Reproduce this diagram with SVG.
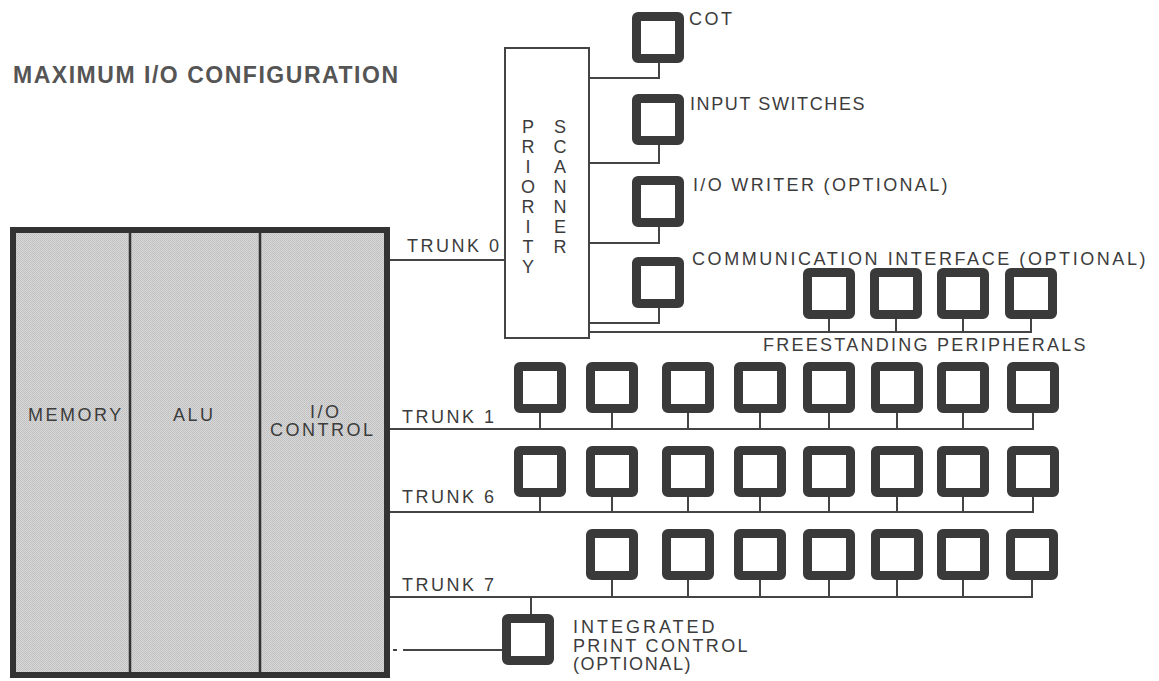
<svg xmlns="http://www.w3.org/2000/svg" xmlns:xlink="http://www.w3.org/1999/xlink" width="1159" height="681" viewBox="0 0 1159 681">
<style>
  text { font-family: "Liberation Sans", Arial, sans-serif; fill: #3c3c3c; }
  .lbl { font-size: 18px; letter-spacing: 2.5px; }
  .ltr { font-size: 18px; text-anchor: middle; }
  .title { font-size: 23px; font-weight: bold; fill: #555; }
  .ln { stroke: #444; stroke-width: 2; fill: none; }
  .pb { fill: #fff; stroke: #3a3a3a; stroke-width: 9; }
  .div { stroke: #333; stroke-width: 2.5; }
</style>
<defs>
  <pattern id="stip" width="2" height="2" patternUnits="userSpaceOnUse">
    <rect width="2" height="2" fill="#d8d8d8"/>
    <rect width="1" height="1" fill="#bebebe"/>
    <rect x="1" y="1" width="1" height="1" fill="#c4c4c4"/>
  </pattern>
  <rect id="pbox" class="pb" x="4.5" y="4.5" width="43" height="42" rx="1.5"/>
</defs>
<rect width="1159" height="681" fill="#fff"/>

<text class="title" x="13" y="83" textLength="385" lengthAdjust="spacing">MAXIMUM I/O CONFIGURATION</text>

<g id="cpu">
  <rect x="13" y="230" width="374" height="445" fill="url(#stip)" stroke="#333" stroke-width="6"/>
  <line class="div" x1="130" y1="231" x2="130" y2="675"/>
  <line class="div" x1="260" y1="231" x2="260" y2="675"/>
  <text class="lbl" x="28" y="421">MEMORY</text>
  <text class="lbl" x="173" y="421">ALU</text>
  <text class="lbl" x="310" y="418">I/O</text>
  <text class="lbl" x="270" y="436">CONTROL</text>
</g>

<g id="connectors">
  <line class="ln" x1="390" y1="260" x2="505" y2="260"/>
  <polyline class="ln" points="589,78 659,78 659,63"/>
  <polyline class="ln" points="589,163 659,163 659,145"/>
  <polyline class="ln" points="589,243 659,243 659,227"/>
  <polyline class="ln" points="589,323 659,323 659,307"/>
  <line class="ln" x1="589" y1="332" x2="1031" y2="332"/>
  <line class="ln" x1="829" y1="332" x2="829" y2="318"/>
  <line class="ln" x1="896" y1="332" x2="896" y2="318"/>
  <line class="ln" x1="963" y1="332" x2="963" y2="318"/>
  <line class="ln" x1="1031" y1="333" x2="1031" y2="318"/>
  <line class="ln" x1="390" y1="429" x2="1033" y2="429"/>
  <line class="ln" x1="540" y1="429" x2="540" y2="412"/>
  <line class="ln" x1="612" y1="429" x2="612" y2="412"/>
  <line class="ln" x1="688" y1="429" x2="688" y2="412"/>
  <line class="ln" x1="760" y1="429" x2="760" y2="412"/>
  <line class="ln" x1="829" y1="429" x2="829" y2="412"/>
  <line class="ln" x1="897" y1="429" x2="897" y2="412"/>
  <line class="ln" x1="963" y1="429" x2="963" y2="412"/>
  <line class="ln" x1="1033" y1="430" x2="1033" y2="412"/>
  <line class="ln" x1="390" y1="512" x2="1033" y2="512"/>
  <line class="ln" x1="540" y1="512" x2="540" y2="496"/>
  <line class="ln" x1="612" y1="512" x2="612" y2="496"/>
  <line class="ln" x1="688" y1="512" x2="688" y2="496"/>
  <line class="ln" x1="760" y1="512" x2="760" y2="496"/>
  <line class="ln" x1="829" y1="512" x2="829" y2="496"/>
  <line class="ln" x1="897" y1="512" x2="897" y2="496"/>
  <line class="ln" x1="963" y1="512" x2="963" y2="496"/>
  <line class="ln" x1="1033" y1="513" x2="1033" y2="496"/>
  <line class="ln" x1="390" y1="597" x2="1032" y2="597"/>
  <line class="ln" x1="612" y1="597" x2="612" y2="579"/>
  <line class="ln" x1="688" y1="597" x2="688" y2="579"/>
  <line class="ln" x1="760" y1="597" x2="760" y2="579"/>
  <line class="ln" x1="829" y1="597" x2="829" y2="579"/>
  <line class="ln" x1="897" y1="597" x2="897" y2="579"/>
  <line class="ln" x1="963" y1="597" x2="963" y2="579"/>
  <line class="ln" x1="1032" y1="598" x2="1032" y2="579"/>
  <line class="ln" x1="531" y1="597" x2="531" y2="615"/>
  <line class="ln" x1="393" y1="650" x2="397" y2="650"/>
  <line class="ln" x1="403" y1="650" x2="503" y2="650"/>
</g>

<g id="trunk-labels">
  <text class="lbl" x="407" y="252">TRUNK 0</text>
  <text class="lbl" x="402" y="423">TRUNK 1</text>
  <text class="lbl" x="402" y="503">TRUNK 6</text>
  <text class="lbl" x="402" y="591">TRUNK 7</text>
</g>

<g id="priority-scanner">
  <rect x="505" y="48" width="84" height="290" fill="#fff" stroke="#444" stroke-width="2"/>
  <text class="ltr" x="528" y="133">P</text>
  <text class="ltr" x="528" y="153">R</text>
  <text class="ltr" x="528" y="173">I</text>
  <text class="ltr" x="528" y="193">O</text>
  <text class="ltr" x="528" y="213">R</text>
  <text class="ltr" x="528" y="233">I</text>
  <text class="ltr" x="528" y="253">T</text>
  <text class="ltr" x="528" y="273">Y</text>
  <text class="ltr" x="560" y="133">S</text>
  <text class="ltr" x="560" y="153">C</text>
  <text class="ltr" x="560" y="173">A</text>
  <text class="ltr" x="560" y="193">N</text>
  <text class="ltr" x="560" y="213">N</text>
  <text class="ltr" x="560" y="233">E</text>
  <text class="ltr" x="560" y="253">R</text>
</g>

<g id="cot"><use xlink:href="#pbox" x="632" y="12"/><text class="lbl" x="689" y="25">COT</text></g>
<g id="input-switches"><use xlink:href="#pbox" x="632" y="94"/><text class="lbl" x="690" y="110" textLength="177" lengthAdjust="spacing">INPUT SWITCHES</text></g>
<g id="io-writer"><use xlink:href="#pbox" x="632" y="176"/><text class="lbl" x="693" y="191" textLength="257" lengthAdjust="spacing">I/O WRITER (OPTIONAL)</text></g>
<g id="comm-interface"><use xlink:href="#pbox" x="632" y="257"/><text class="lbl" x="692" y="265" textLength="456" lengthAdjust="spacing">COMMUNICATION INTERFACE (OPTIONAL)</text></g>

<g id="freestanding">
  <use xlink:href="#pbox" x="803" y="268"/>
  <use xlink:href="#pbox" x="870" y="268"/>
  <use xlink:href="#pbox" x="937" y="268"/>
  <use xlink:href="#pbox" x="1005" y="268"/>
  <text class="lbl" x="763" y="351" textLength="325" lengthAdjust="spacing">FREESTANDING PERIPHERALS</text>
</g>

<g id="trunk1-peripherals">
  <use xlink:href="#pbox" x="514" y="362"/>
  <use xlink:href="#pbox" x="586" y="362"/>
  <use xlink:href="#pbox" x="662" y="362"/>
  <use xlink:href="#pbox" x="734" y="362"/>
  <use xlink:href="#pbox" x="803" y="362"/>
  <use xlink:href="#pbox" x="871" y="362"/>
  <use xlink:href="#pbox" x="937" y="362"/>
  <use xlink:href="#pbox" x="1007" y="362"/>
</g>

<g id="trunk6-peripherals">
  <use xlink:href="#pbox" x="514" y="446"/>
  <use xlink:href="#pbox" x="586" y="446"/>
  <use xlink:href="#pbox" x="662" y="446"/>
  <use xlink:href="#pbox" x="734" y="446"/>
  <use xlink:href="#pbox" x="803" y="446"/>
  <use xlink:href="#pbox" x="871" y="446"/>
  <use xlink:href="#pbox" x="937" y="446"/>
  <use xlink:href="#pbox" x="1007" y="446"/>
</g>

<g id="trunk7-peripherals">
  <use xlink:href="#pbox" x="586" y="529"/>
  <use xlink:href="#pbox" x="662" y="529"/>
  <use xlink:href="#pbox" x="734" y="529"/>
  <use xlink:href="#pbox" x="803" y="529"/>
  <use xlink:href="#pbox" x="871" y="529"/>
  <use xlink:href="#pbox" x="937" y="529"/>
  <use xlink:href="#pbox" x="1006" y="529"/>
</g>

<g id="integrated-print-control">
  <use xlink:href="#pbox" x="502" y="614"/>
  <text class="lbl" x="573" y="633" textLength="144" lengthAdjust="spacing">INTEGRATED</text>
  <text class="lbl" x="573" y="652" textLength="177" lengthAdjust="spacing">PRINT CONTROL</text>
  <text class="lbl" x="573" y="670" textLength="120" lengthAdjust="spacing">(OPTIONAL)</text>
</g>
</svg>
